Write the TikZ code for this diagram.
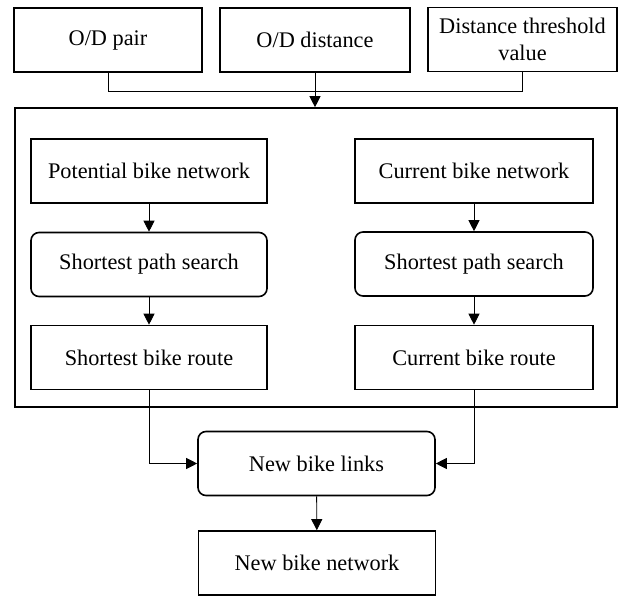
\documentclass[tikz,border=0pt]{standalone}
\usepackage{fontspec}
\setmainfont{Liberation Serif}
\usetikzlibrary{arrows.meta}

\begin{document}
\begin{tikzpicture}[
        x=1pt, y=-1pt,
        % common looks
        box/.style={
            rectangle, draw=black, line width=1.6pt,
            minimum width=#1, minimum height=64pt, inner sep=2pt,
            align=center, font=\fontsize{22.3}{26.5}\selectfont
        },
        box/.default=237pt,
        rbox/.style={box=#1, rounded corners=8pt},
        rbox/.default=237pt,
        frame/.style={rectangle, draw=black, line width=1.6pt,
            minimum width=602pt, minimum height=299pt, inner sep=0pt},
        link/.style={draw=black, line width=0.9pt},
        arr/.style={link, -{Triangle[length=11pt, width=11pt]}}
    ]
        \useasboundingbox (0,0) rectangle (618,596);

        % inputs
        \node[box=188pt] (odpair) at (108,40) {O/D pair};
        \node[box=190pt] (oddist) at (315,40) {O/D distance};
        \node[box=189pt] (thresh) at (522.5,39.5) {Distance threshold\\value};

        % frame round both searches
        \node[frame] (search) at (316,257.5) {};

        % left: potential network
        \node[box=236pt] (potnet) at (149,171) {Potential bike network};
        \node[rbox=236pt] (potsp) at (149,264.5) {Shortest path search};
        \node[box=236pt] (potroute) at (149,357.5) {Shortest bike route};

        % right: current network
        \node[box=238pt] (curnet) at (474,171) {Current bike network};
        \node[rbox=238pt] (cursp) at (474,264) {Shortest path search};
        \node[box=238pt] (curroute) at (474,357.5) {Current bike route};

        % outputs
        \node[rbox] (newlinks) at (316.5,463.5) {New bike links};
        \node[box] (newnet) at (317,563) {New bike network};

        \coordinate (merge) at (315,91);

        % connectors
        \draw[link] (odpair.south) |- (merge);
        \draw[link] (thresh.south) |- (merge);
        \draw[arr] (oddist.south) -- (oddist.south |- search.north);

        \draw[arr] (potnet) -- (potsp);
        \draw[arr] (potsp) -- (potroute);
        \draw[arr] (curnet) -- (cursp);
        \draw[arr] (cursp) -- (curroute);

        \draw[arr] (potroute.south) |- (newlinks.west);
        \draw[arr] (curroute.south) |- (newlinks.east);
        \draw[arr] (newlinks) -- (newnet);

    \end{tikzpicture}
\end{document}
